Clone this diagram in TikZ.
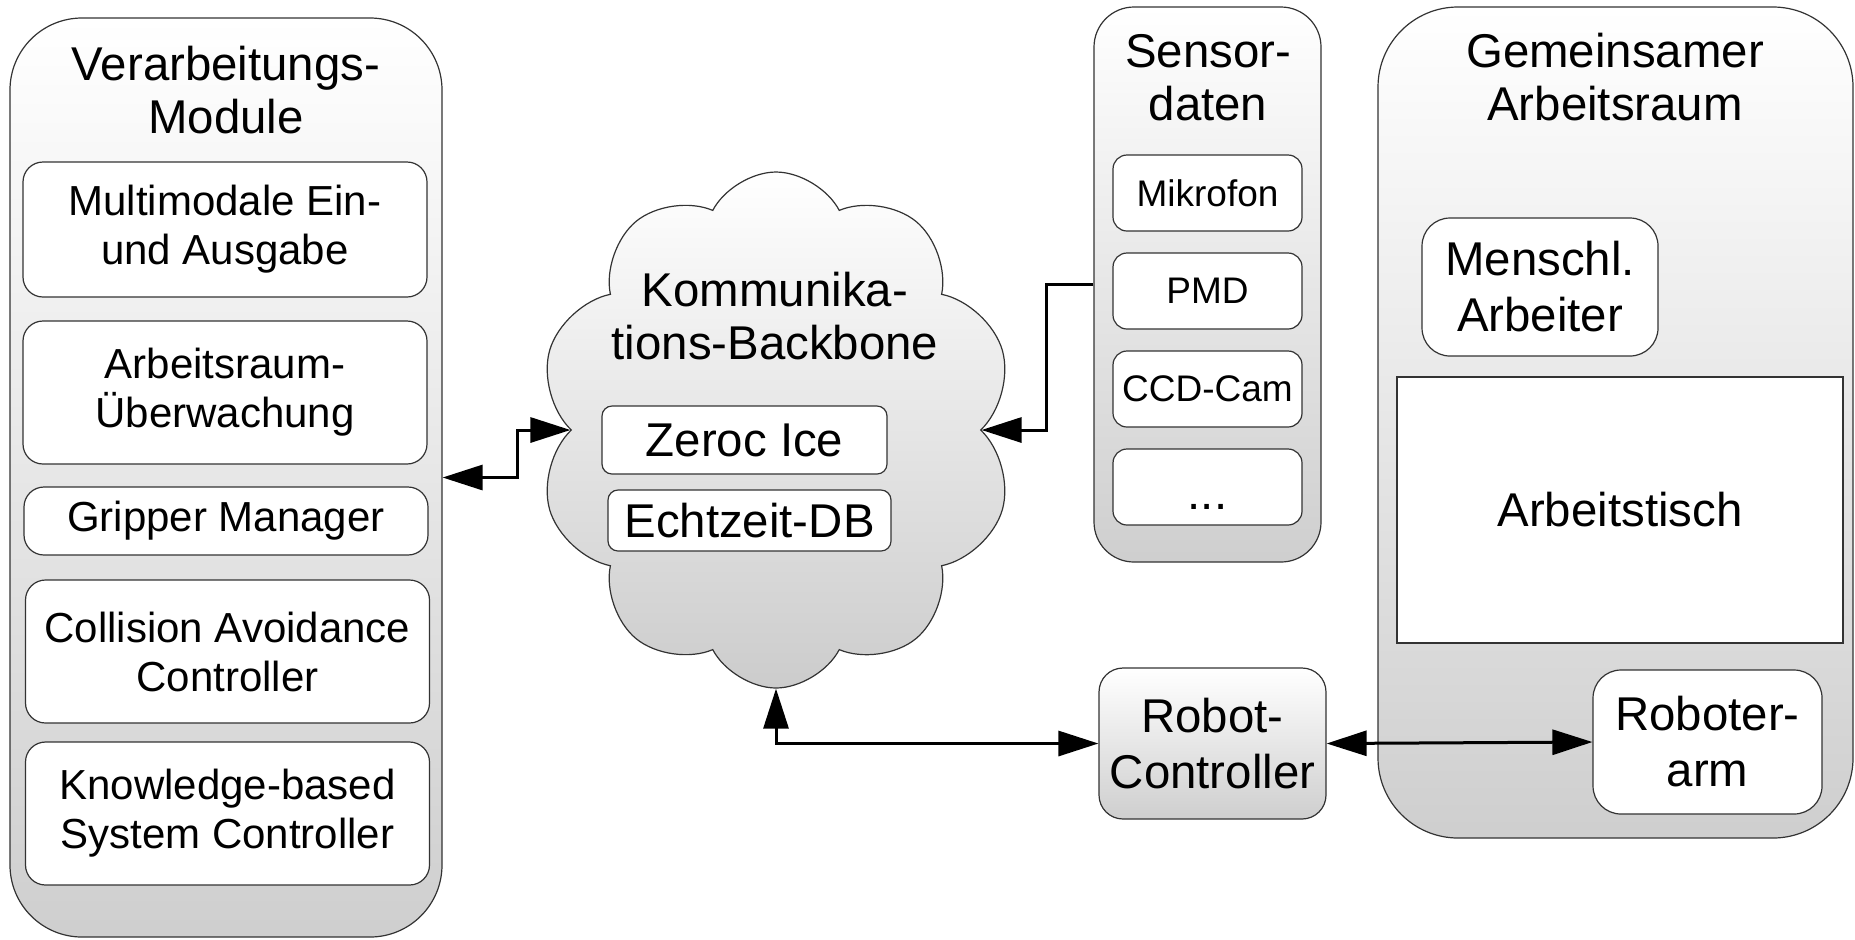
\documentclass[tikz,border=0pt]{standalone}
\usepackage{fontspec}
\setmainfont{Liberation Sans}
\usetikzlibrary{positioning,shapes.symbols,arrows.meta}

\tikzset{
  panel/.style={draw=black!80, line width=0.6pt, rounded corners=#1, top color=white, bottom color=black!19, inner sep=0pt},
  modbox/.style={draw=black!80, line width=0.6pt, rounded corners=10pt, fill=white, align=center, minimum width=202pt, inner sep=0pt, font=\fontsize{21}{24.5}\selectfont},
  sensbox/.style={draw=black!80, line width=0.6pt, rounded corners=7pt, fill=white, minimum width=94.5pt, minimum height=38pt, inner sep=0pt, font=\fontsize{18.5}{22}\selectfont},
  bigbox/.style={draw=black!80, line width=0.6pt, rounded corners=#1, fill=white, align=center, inner sep=0pt, font=\fontsize{23.7}{28}\selectfont},
  headtext/.style={align=center, font=\fontsize{23.7}{26.5}\selectfont},
  link/.style={line width=1.5pt},
}

\begin{document}
\begin{tikzpicture}[x=0.5pt, y=-0.5pt, node distance=49pt, >={Triangle[length=20pt,width=12.5pt]}]
    \useasboundingbox (0,0) rectangle (1855,939);

    % Verarbeitungs-Module
    \node[panel=36pt, minimum width=216pt, minimum height=459.5pt] (vm) at (226,477.5) {};
    \node[headtext] (vmt) at (226,90) {Verarbeitungs-\\Module};
    \node[modbox, minimum height=67.5pt] (mm) at (225,229.5) {Multimodale Ein-\\und Ausgabe};
    \node[modbox, minimum height=71.5pt] (aw) at (225,392.5) {Arbeitsraum-\\Überwachung};
    \node[modbox, minimum height=34pt] (gm) at (226,521) {Gripper Manager};
    \node[modbox, minimum height=71.5pt] (ca) at (227.5,651.5) {Collision Avoidance\\Controller};
    \node[modbox, minimum height=71.5pt] (kb) at (227.5,813.5) {Knowledge-based\\System Controller};

    % Kommunikations-Backbone
    \node[cloud, cloud puffs=10, cloud puff arc=125, aspect=0.9, draw=black!80, line width=0.6pt,
          top color=white, bottom color=black!20, minimum width=238pt, minimum height=258pt,
          inner sep=0pt] (bb) at (776,430) {};
    \node[headtext] (bbt) at (775,316) {Kommunika-\\tions-Backbone};
    \node[bigbox=5pt, minimum width=142.5pt, minimum height=34pt] (ice) at (744.5,440) {Zeroc Ice};
    \node[bigbox=5pt, minimum width=141.5pt, minimum height=30.5pt] (db) at (749.5,520.5) {Echtzeit-DB};

    % Sensordaten
    \node[panel=20pt, minimum width=113.5pt, minimum height=277.5pt] (sd) at (1207.5,284.5) {};
    \node[headtext] (sdt) at (1208,78) {Sensor-\\daten};
    \node[sensbox] (mic) at (1207.5,193) {Mikrofon};
    \node[sensbox] (pmd) [below of=mic] {PMD};
    \node[sensbox] (ccd) [below of=pmd] {CCD-Cam};
    \node[sensbox, font=\fontsize{23.7}{28}\selectfont, text height=24pt, text depth=2pt] (etc) [below of=ccd] {...};

    % Gemeinsamer Arbeitsraum
    \node[panel=40pt, minimum width=237.5pt, minimum height=415.5pt] (ga) at (1615.5,422.5) {};
    \node[headtext] (gat) at (1615,77) {Gemeinsamer\\Arbeitsraum};
    \node[bigbox=14pt, minimum width=118pt, minimum height=69pt] (hw) at (1540,287) {Menschl.\\Arbeiter};
    \node[bigbox=0pt, minimum width=223pt, minimum height=133pt] (tisch) at (1620,510) {Arbeitstisch};
    \node[bigbox=14pt, minimum width=114.5pt, minimum height=72pt] (arm) at (1707.5,742) {Roboter-\\arm};

    % Robot-Controller
    \node[panel=12pt, minimum width=113.5pt, minimum height=75.5pt, align=center,
          font=\fontsize{23.7}{28}\selectfont] (rc) at (1212.5,743.5) {Robot-\\Controller};

    \draw[link, <->] (bb.west) -- ++(-53,0) |- (vm.east);
    \draw[link, ->] (sd.west) -- ++(-47,0) |- (bb.east);
    \draw[link, <->] (bb.south) |- (rc.west);
    \draw[link, <->] (rc.east) -- (arm.west);
\end{tikzpicture}
\end{document}
